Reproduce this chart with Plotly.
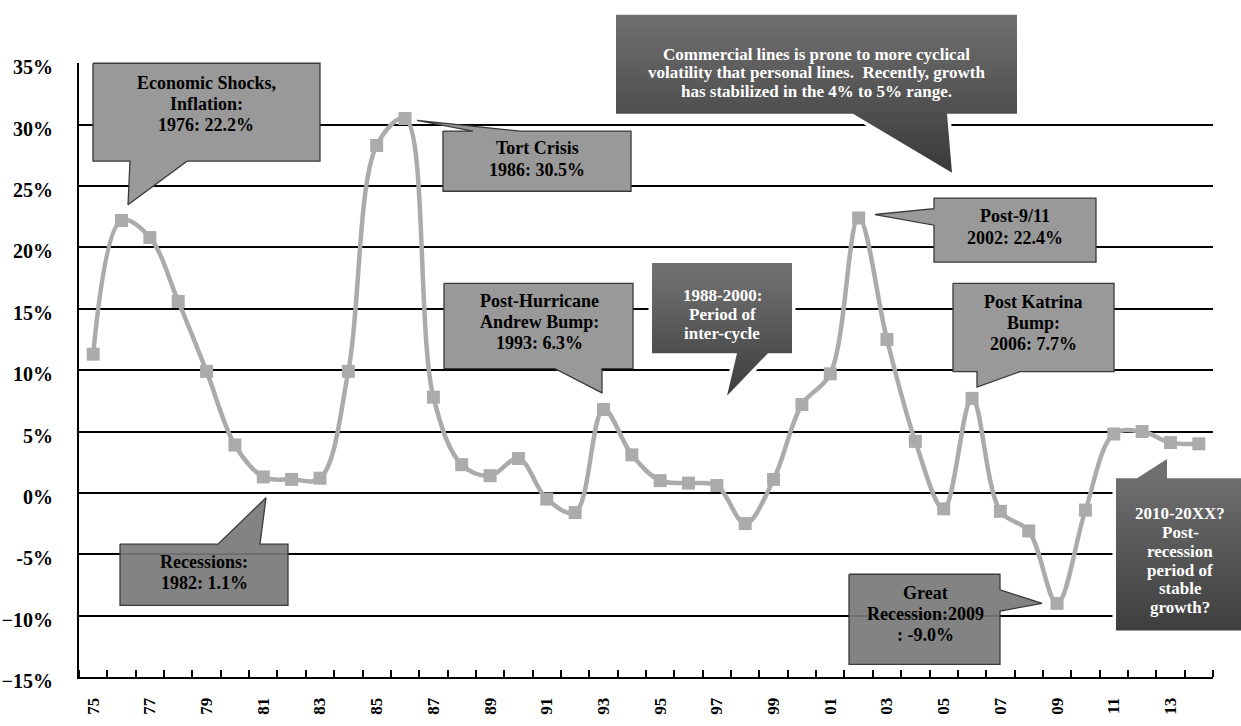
import plotly.graph_objects as go

# ---------------- data ----------------
years = list(range(1975, 2015))
growth = [11.3, 22.2, 20.8, 15.6, 9.9, 3.9, 1.3, 1.1, 1.2, 9.9,
          28.3, 30.5, 7.8, 2.3, 1.4, 2.8, -0.5, -1.6, 6.8, 3.1,
          1.0, 0.8, 0.6, -2.5, 1.1, 7.2, 9.7, 22.4, 12.5, 4.2,
          -1.3, 7.7, -1.5, -3.1, -9.0, -1.4, 4.8, 5.0, 4.1, 4.0]
label_years = list(range(1975, 2014, 2))
label_text = ["%02d" % (y % 100) for y in label_years]
y_ticks = [-15, -10, -5, 0, 5, 10, 15, 20, 25, 30, 35]
y_ticktext = ["\u221215%", "\u221210%", "-5%", "0%", "5%", "10%", "15%", "20%", "25%", "30%", "35%"]

W, H = 1241, 726
PL, PR, PT, PB = 79, 1213, 58, 691   # plot area in pixels

fig = go.Figure()

fig.add_trace(go.Scatter(
    x=years, y=growth, mode="lines+markers",
    line=dict(color="#ababab", width=4.5, shape="spline", smoothing=1.0),
    marker=dict(symbol="square", size=13, color="#ababab"),
    xaxis="x", yaxis="y", showlegend=False, hoverinfo="skip"))

# ---------------- callouts (pixel coordinates on overlay axes) ----------------
MED = "#999999"
MID = "rgba(120,120,120,0.92)"
callouts = [
    dict(poly=[(93, 58), (320, 58), (320, 159), (187, 159), (128, 204), (130, 159), (93, 159)],
         fill=MED, lines=["Economic Shocks,", "Inflation:", "1976: 22.2%"], cx=206, cy=100, sp=22, fs=18, fc="black"),
    dict(poly=[(443, 128), (473, 128), (417, 117), (520, 128), (631, 128), (631, 190), (443, 190)],
         fill=MED, lines=["Tort Crisis", "1986: 30.5%"], cx=537, cy=157, sp=23, fs=18, fc="black"),
    dict(poly=[(444, 285), (633, 285), (633, 373), (602, 373), (602, 398), (555, 373), (444, 373)],
         fill=MED, lines=["Post-Hurricane", "Andrew Bump:", "1993: 6.3%"], cx=539, cy=325, sp=21.5, fs=18, fc="black"),
    dict(poly=[(934, 197), (1096, 197), (1096, 263), (934, 263), (934, 225), (875, 214), (934, 208)],
         fill=MED, lines=["Post-9/11", "2002: 22.4%"], cx=1015, cy=227, sp=22, fs=18, fc="black"),
    dict(poly=[(953, 285), (1114, 285), (1114, 376), (1020, 376), (977, 392), (977, 376), (953, 376)],
         fill=MED, lines=["Post Katrina", "Bump:", "2006: 7.7%"], cx=1033, cy=326, sp=21.5, fs=18, fc="black"),
    dict(poly=[(120, 554), (218, 554), (266, 506), (260, 554), (288, 554), (288, 617), (120, 617)],
         fill=MID, lines=["Recessions:", "1982: 1.1%"], cx=204, cy=583, sp=21, fs=18, fc="black"),
    dict(poly=[(849, 585), (1000, 585), (1000, 601), (1042, 615), (1000, 623), (1000, 678), (849, 678)],
         fill=MID, lines=["Great", "Recession:2009", ": -9.0%"], cx=925, cy=626, sp=22, fs=18, fc="black"),
    dict(poly=[(616, 8), (1017, 8), (1017, 110), (947, 110), (952, 171), (853, 110), (616, 110)],
         fill="grad", lines=["Commercial lines is prone to more cyclical",
                             "volatility that personal lines.  Recently, growth",
                             "has stabilized in the 4% to 5% range."], cx=816, cy=68, sp=19.5, fs=17, fc="white"),
    dict(poly=[(652, 264), (792, 264), (792, 357), (768, 357), (727, 401), (737, 357), (652, 357)],
         fill="grad", lines=["1988-2000:", "Period of", "inter-cycle"], cx=722, cy=317, sp=19.5, fs=17, fc="white"),
    dict(poly=[(1116, 486), (1137, 486), (1167, 466), (1167, 486), (1245, 486), (1245, 643), (1116, 643)],
         fill="grad", lines=["2010-20XX?", "Post-", "recession", "period of", "stable", "growth?"],
         cx=1180, cy=571, sp=19.3, fs=17, fc="white"),
]

annotations = []
for c in callouts:
    xs = [p[0] for p in c["poly"]] + [c["poly"][0][0]]
    ys = [p[1] for p in c["poly"]] + [c["poly"][0][1]]
    if c["fill"] == "grad":
        fig.add_trace(go.Scatter(x=xs, y=ys, mode="lines", line=dict(color="white", width=7),
                                 xaxis="x2", yaxis="y2", showlegend=False, hoverinfo="skip"))
        fig.add_trace(go.Scatter(
            x=xs, y=ys, mode="lines", fill="toself",
            line=dict(color="rgba(0,0,0,0)", width=0),
            fillgradient=dict(type="vertical", start=min(ys), stop=max(ys),
                              colorscale=[[0, "#707070"], [1, "#383838"]]),
            xaxis="x2", yaxis="y2", showlegend=False, hoverinfo="skip"))
    else:
        fig.add_trace(go.Scatter(
            x=xs, y=ys, mode="lines", fill="toself", fillcolor=c["fill"],
            line=dict(color="#3a3a3a", width=1.3),
            xaxis="x2", yaxis="y2", showlegend=False, hoverinfo="skip"))
    n = len(c["lines"])
    for i, t in enumerate(c["lines"]):
        annotations.append(dict(
            x=c["cx"], y=c["cy"] + (i - (n - 1) / 2) * c["sp"], xref="x2", yref="y2",
            text=t, showarrow=False, xanchor="center", yanchor="middle",
            font=dict(family="Liberation Serif", size=c["fs"], color=c["fc"], weight="bold")))

fig.update_layout(
    width=W, height=H,
    margin=dict(l=0, r=0, t=0, b=0),
    paper_bgcolor="white", plot_bgcolor="rgba(0,0,0,0)",
    hovermode=False, showlegend=False,
    annotations=annotations,
    xaxis=dict(
        domain=[PL / W, PR / W], anchor="y",
        range=[1974.5, 2014.5],
        tickmode="array", tickvals=label_years, ticktext=label_text,
        ticks="", tickangle=-90, ticklabelstandoff=12,
        tickfont=dict(family="Liberation Serif", size=17, color="black", weight="bold"),
        showgrid=False, zeroline=False,
        showline=True, linecolor="black", linewidth=2,
        minor=dict(tickmode="array", tickvals=[1974.5 + i for i in range(41)],
                   ticks="inside", ticklen=7, tickwidth=1.5, tickcolor="black", showgrid=False),
        fixedrange=True),
    yaxis=dict(
        domain=[(H - PB) / H, (H - PT) / H], anchor="x",
        range=[-15, 35],
        tickmode="array", tickvals=y_ticks, ticktext=y_ticktext,
        ticks="", ticklabelstandoff=20, ticklabelshift=4,
        tickfont=dict(family="Liberation Serif", size=20, color="black", weight="bold"),
        showgrid=True, gridcolor="black", gridwidth=2,
        zeroline=True, zerolinecolor="black", zerolinewidth=2,
        showline=True, linecolor="black", linewidth=2,
        fixedrange=True),
    xaxis2=dict(domain=[0, 1], range=[0, W], visible=False, anchor="y2", fixedrange=True),
    yaxis2=dict(domain=[0, 1], range=[H, 0], visible=False, anchor="x2", fixedrange=True),
)

fig.write_html("out.html", config={"displayModeBar": False},
               post_script="document.body.style.margin='0px';document.body.style.overflow='hidden';")
